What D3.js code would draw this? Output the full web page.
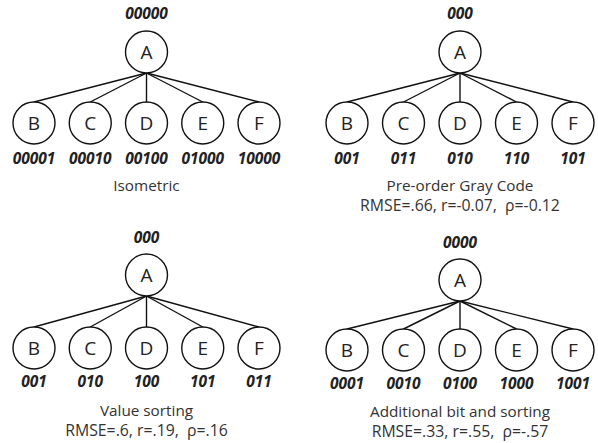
<!DOCTYPE html>
<html><head><meta charset="utf-8">
<script src="https://cdn.jsdelivr.net/npm/d3@7"></script>
<style>body{margin:0;background:#fff}svg{display:block}</style>
</head><body><svg id="c" width="598" height="443"></svg>
<script>
// ---- data ----
const rootName = "A";
const childNames = ["B","C","D","E","F"];
const panelTitles = ["Isometric","Pre-order Gray Code","Value sorting","Additional bit and sorting"];
const panelStats = ["", "RMSE=.66, r=-0.07,  \u03c1=-0.12", "RMSE=.6, r=.19,  \u03c1=.16", "RMSE=.33, r=.55,  \u03c1=-.57"];
const rootCodes = ["00000","000","000","0000"];
const childCodes = [
  ["00001","00010","00100","01000","10000"],
  ["001","011","010","110","101"],
  ["001","010","100","101","011"],
  ["0001","0010","0100","1000","1001"]
];

// ---- layout (pixels) ----
const layout = [
  {x0:34,  x1:259, rootY:52,  childY:123, rootLab:19,  childLab:164, title:191, stats:211},
  {x0:347, x1:573, rootY:52,  childY:123, rootLab:19,  childLab:164, title:191, stats:211},
  {x0:34,  x1:259, rootY:275, childY:348, rootLab:243, childLab:387, title:416, stats:436},
  {x0:347, x1:573, rootY:280, childY:350, rootLab:248, childLab:389, title:417, stats:437}
];
const R = 21;
const svg = d3.select("#c");
const textFont = "'Open Sans', 'Noto Sans', sans-serif";

panelTitles.forEach((title, i) => {
  const L = layout[i];
  const root = d3.hierarchy({name: rootName, code: rootCodes[i],
    children: childNames.map((n, j) => ({name: n, code: childCodes[i][j]}))});
  const xs = d3.scalePoint().domain(childNames).range([L.x0, L.x1]);
  const ys = d3.scaleOrdinal().domain([0, 1]).range([L.rootY, L.childY]);
  root.each(d => {
    d.x = d.depth === 0 ? (L.x0 + L.x1) / 2 : xs(d.data.name);
    d.y = ys(d.depth);
  });
  const g = svg.append("g");
  g.selectAll("line").data(root.links()).join("line")
    .attr("x1", d => d.source.x).attr("y1", d => d.source.y + R)
    .attr("x2", d => d.target.x).attr("y2", d => d.target.y - R)
    .attr("stroke", "#111").attr("stroke-width", 1.4);
  const nodes = g.selectAll("g.n").data(root.descendants()).join("g")
    .attr("class", "n").attr("transform", d => `translate(${d.x},${d.y})`);
  nodes.append("circle").attr("r", R).attr("fill", "#fff")
    .attr("stroke", "#111").attr("stroke-width", 1.4);
  nodes.append("text").text(d => d.data.name)
    .attr("text-anchor", "middle").attr("dy", "0.36em")
    .attr("font-family", textFont).attr("font-size", 19).attr("fill", "#222");
  nodes.append("text").text(d => d.data.code)
    .attr("text-anchor", "middle")
    .attr("y", d => (d.depth === 0 ? L.rootLab : L.childLab) - d.y)
    .attr("font-family", textFont).attr("font-size", 15.5)
    .attr("font-weight", "bold").attr("font-style", "italic").attr("fill", "#222");
  const cx = (L.x0 + L.x1) / 2;
  g.append("text").text(title).attr("x", cx).attr("y", L.title)
    .attr("text-anchor", "middle").attr("font-family", textFont)
    .attr("font-size", 15.3).attr("fill", "#333");
  if (panelStats[i]) {
    g.append("text").text(panelStats[i]).attr("x", cx).attr("y", L.stats)
      .attr("text-anchor", "middle").attr("font-family", textFont)
      .attr("font-size", 15.8).attr("fill", "#333").style("white-space", "pre");
  }
});
</script></body></html>
